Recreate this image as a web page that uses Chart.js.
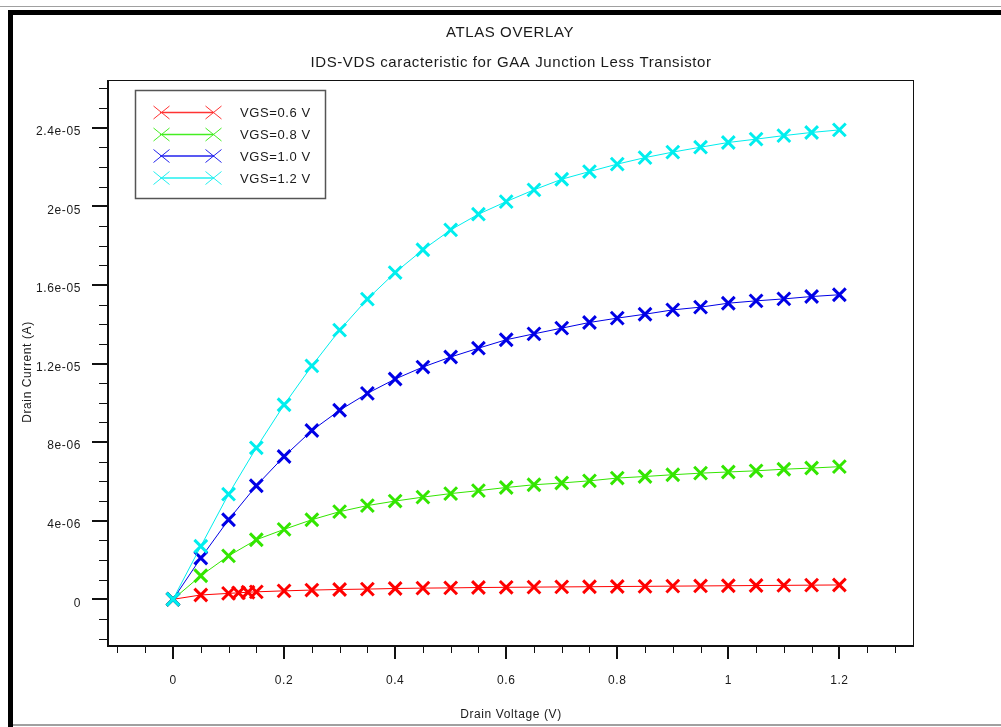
<!DOCTYPE html>
<html>
<head>
<meta charset="utf-8">
<script src="https://cdn.jsdelivr.net/npm/chart.js@4.4.1/dist/chart.umd.min.js"></script>
<style>
html,body{margin:0;padding:0;background:#fff;overflow:hidden}
#c{display:block}
</style>
</head>
<body>
<canvas id="c" width="1001" height="727"></canvas>
<script>
// ---- data (Drain Voltage in V, Drain Current in A) ----
const vds = [0, 0.05, 0.1, 0.15, 0.2, 0.25, 0.3, 0.35, 0.4, 0.45, 0.5, 0.55, 0.6, 0.65, 0.7, 0.75, 0.8, 0.85, 0.9, 0.95, 1.0, 1.05, 1.1, 1.15, 1.2];
const vdsVgs06 = [0, 0.05, 0.1, 0.118, 0.135, 0.15, 0.2, 0.25, 0.3, 0.35, 0.4, 0.45, 0.5, 0.55, 0.6, 0.65, 0.7, 0.75, 0.8, 0.85, 0.9, 0.95, 1.0, 1.05, 1.1, 1.15, 1.2];
const idsVgs06 = [0, 0.22e-6, 0.30e-6, 0.33e-6, 0.36e-6, 0.38e-6, 0.43e-6, 0.47e-6, 0.50e-6, 0.52e-6, 0.55e-6, 0.57e-6, 0.58e-6, 0.60e-6, 0.61e-6, 0.62e-6, 0.63e-6, 0.64e-6, 0.65e-6, 0.66e-6, 0.67e-6, 0.68e-6, 0.69e-6, 0.70e-6, 0.71e-6, 0.72e-6, 0.73e-6];
const idsVgs08 = [0, 1.20e-6, 2.21e-6, 3.03e-6, 3.56e-6, 4.05e-6, 4.46e-6, 4.77e-6, 5.00e-6, 5.20e-6, 5.38e-6, 5.53e-6, 5.69e-6, 5.83e-6, 5.92e-6, 6.03e-6, 6.17e-6, 6.25e-6, 6.34e-6, 6.42e-6, 6.48e-6, 6.54e-6, 6.62e-6, 6.68e-6, 6.75e-6];
const idsVgs10 = [0, 2.10e-6, 4.05e-6, 5.78e-6, 7.27e-6, 8.59e-6, 9.62e-6, 10.48e-6, 11.21e-6, 11.82e-6, 12.33e-6, 12.78e-6, 13.21e-6, 13.51e-6, 13.80e-6, 14.09e-6, 14.31e-6, 14.51e-6, 14.73e-6, 14.87e-6, 15.07e-6, 15.19e-6, 15.29e-6, 15.41e-6, 15.50e-6];
const idsVgs12 = [0, 2.70e-6, 5.35e-6, 7.71e-6, 9.90e-6, 11.88e-6, 13.70e-6, 15.28e-6, 16.63e-6, 17.79e-6, 18.80e-6, 19.60e-6, 20.24e-6, 20.84e-6, 21.38e-6, 21.77e-6, 22.15e-6, 22.48e-6, 22.76e-6, 23.01e-6, 23.25e-6, 23.42e-6, 23.60e-6, 23.76e-6, 23.89e-6];
const seriesLabels = ['VGS=0.6 V', 'VGS=0.8 V', 'VGS=1.0 V', 'VGS=1.2 V'];
const xTickValues = [0, 0.2, 0.4, 0.6, 0.8, 1.0, 1.2];
const xTickLabels = ['0', '0.2', '0.4', '0.6', '0.8', '1', '1.2'];
const yTickValues = [0, 4e-6, 8e-6, 1.2e-5, 1.6e-5, 2e-5, 2.4e-5];
const yTickLabels = ['0', '4e-06', '8e-06', '1.2e-05', '1.6e-05', '2e-05', '2.4e-05'];
const titleText = 'ATLAS OVERLAY';
const subtitleText = 'IDS-VDS caracteristic for GAA Junction Less Transistor';
const xTitle = 'Drain Voltage (V)';
const yTitle = 'Drain Current (A)';

const FONT = "'Liberation Sans', Arial, sans-serif";
const SPACING = '0.6px';
const TEXT = '#1a1a1a';

function pts(xs, ys) { return xs.map((x, i) => ({ x: x, y: ys[i] })); }
function lookup(vals, labels, v, tol) {
  for (let i = 0; i < vals.length; i++) if (Math.abs(vals[i] - v) < tol) return labels[i];
  return '';
}

const colors = ['#ff0000', '#33e600', '#0000e6', '#00eeee'];
const legendColors = ['#ff3333', '#44ee22', '#2222ee', '#22f0f0'];

function ds(i, data, order) {
  return {
    label: seriesLabels[i], data: data, order: order,
    borderColor: colors[i], backgroundColor: colors[i],
    borderWidth: 1, pointStyle: 'crossRot', pointRadius: 9, pointBorderWidth: 3,
    pointBorderColor: colors[i], pointHoverRadius: 9, tension: 0, fill: false
  };
}

const framePlugin = {
  id: 'frame',
  beforeLayout(chart) { chart.ctx.letterSpacing = SPACING; },
  beforeDraw(chart) {
    const ctx = chart.ctx;
    ctx.save();
    ctx.fillStyle = '#fff';
    ctx.fillRect(0, 0, chart.width, chart.height);
    ctx.restore();
    ctx.letterSpacing = SPACING;
  },
  afterDraw(chart) {
    const ctx = chart.ctx;
    const a = chart.chartArea;
    const xs = chart.scales.x, ys = chart.scales.y;
    ctx.save();
    ctx.letterSpacing = SPACING;
    // window frame
    ctx.fillStyle = '#a0a0a0';
    ctx.fillRect(0, 6, chart.width, 1);
    ctx.fillRect(13, 724, chart.width - 13, 2);
    ctx.fillStyle = '#000';
    ctx.fillRect(8, 10, chart.width - 8, 5);
    ctx.fillRect(8, 10, 5, chart.height - 10);

    // plot box
    ctx.strokeStyle = '#111';
    ctx.lineWidth = 1;
    ctx.strokeRect(a.left + 0.5, a.top + 0.5, a.right - a.left, a.bottom - a.top);
    ctx.lineWidth = 2;
    ctx.beginPath();
    ctx.moveTo(a.left, a.top); ctx.lineTo(a.left, a.bottom + 1); ctx.lineTo(a.right + 1, a.bottom + 1);
    ctx.stroke();

    // tick marks (positions from the library's scales)
    xs.ticks.forEach(t => {
      const px = Math.round(xs.getPixelForValue(t.value));
      const major = lookup(xTickValues, xTickLabels, t.value, 1e-6) !== '';
      ctx.lineWidth = major ? 2 : 1;
      ctx.beginPath();
      ctx.moveTo(major ? px : px + 0.5, a.bottom + 1);
      ctx.lineTo(major ? px : px + 0.5, a.bottom + (major ? 14 : 8));
      ctx.stroke();
    });
    ys.ticks.forEach(t => {
      const py = Math.round(ys.getPixelForValue(t.value));
      const major = lookup(yTickValues, yTickLabels, t.value, 1e-10) !== '';
      ctx.lineWidth = major ? 2 : 1;
      ctx.beginPath();
      ctx.moveTo(a.left, major ? py : py + 0.5);
      ctx.lineTo(a.left - (major ? 16 : 9), major ? py : py + 0.5);
      ctx.stroke();
    });

    // titles
    ctx.fillStyle = TEXT;
    ctx.textAlign = 'center';
    ctx.textBaseline = 'middle';
    ctx.font = '15px ' + FONT;
    ctx.fillText(titleText, 510, 33);
    ctx.fillText(subtitleText, 511, 63);
    ctx.font = '12px ' + FONT;
    ctx.fillText(xTitle, 511, 715);
    ctx.save();
    ctx.translate(28, 372);
    ctx.rotate(-Math.PI / 2);
    ctx.fillText(yTitle, 0, 0);
    ctx.restore();

    // legend
    ctx.fillStyle = '#fff';
    ctx.fillRect(135, 90, 190, 109);
    ctx.strokeStyle = '#555';
    ctx.lineWidth = 1.5;
    ctx.strokeRect(135.5, 90.5, 190, 108);
    const rows = [112.5, 134.5, 156, 178];
    chart.data.datasets.forEach((d, i) => {
      const y = rows[i];
      const c = legendColors[i];
      ctx.strokeStyle = c;
      ctx.lineWidth = 1.5;
      ctx.beginPath(); ctx.moveTo(160, y); ctx.lineTo(214, y); ctx.stroke();
      ctx.lineWidth = 1;
      [161.5, 213.5].forEach(cx => {
        ctx.beginPath();
        ctx.moveTo(cx - 8, y - 6.5); ctx.lineTo(cx + 8, y + 6.5);
        ctx.moveTo(cx - 8, y + 6.5); ctx.lineTo(cx + 8, y - 6.5);
        ctx.stroke();
      });
      ctx.fillStyle = TEXT;
      ctx.font = '13px ' + FONT;
      ctx.textAlign = 'left';
      ctx.textBaseline = 'middle';
      ctx.fillText(d.label, 240, y + 1);
    });
    ctx.restore();
  }
};

new Chart(document.getElementById('c'), {
  type: 'line',
  data: {
    datasets: [
      ds(0, pts(vdsVgs06, idsVgs06), 4),
      ds(1, pts(vds, idsVgs08), 3),
      ds(2, pts(vds, idsVgs10), 2),
      ds(3, pts(vds, idsVgs12), 1)
    ]
  },
  options: {
    responsive: false,
    animation: false,
    devicePixelRatio: 1,
    events: [],
    layout: { padding: { left: 0, top: 80, right: 88, bottom: 0 } },
    plugins: { legend: { display: false }, title: { display: false }, tooltip: { enabled: false } },
    scales: {
      x: {
        type: 'linear', position: 'bottom',
        min: -0.1171, max: 1.3326,
        grid: { display: false, drawTicks: false },
        border: { display: false },
        afterFit(s) { s.height = 82; },
        ticks: {
          stepSize: 0.05, includeBounds: false, autoSkip: false, maxRotation: 0, minRotation: 0,
          padding: 28, color: TEXT, font: { family: FONT, size: 12 },
          callback: v => lookup(xTickValues, xTickLabels, v, 1e-6)
        }
      },
      y: {
        type: 'linear', position: 'left',
        min: -2.326e-6, max: 2.643e-5,
        grid: { display: false, drawTicks: false },
        border: { display: false },
        afterFit(s) { s.width = 108; },
        ticks: {
          stepSize: 1e-6, includeBounds: false, autoSkip: false,
          padding: 27, labelOffset: 4, color: TEXT, font: { family: FONT, size: 12 },
          callback: v => lookup(yTickValues, yTickLabels, v, 1e-10)
        }
      }
    }
  },
  plugins: [framePlugin]
});
</script>
</body>
</html>
